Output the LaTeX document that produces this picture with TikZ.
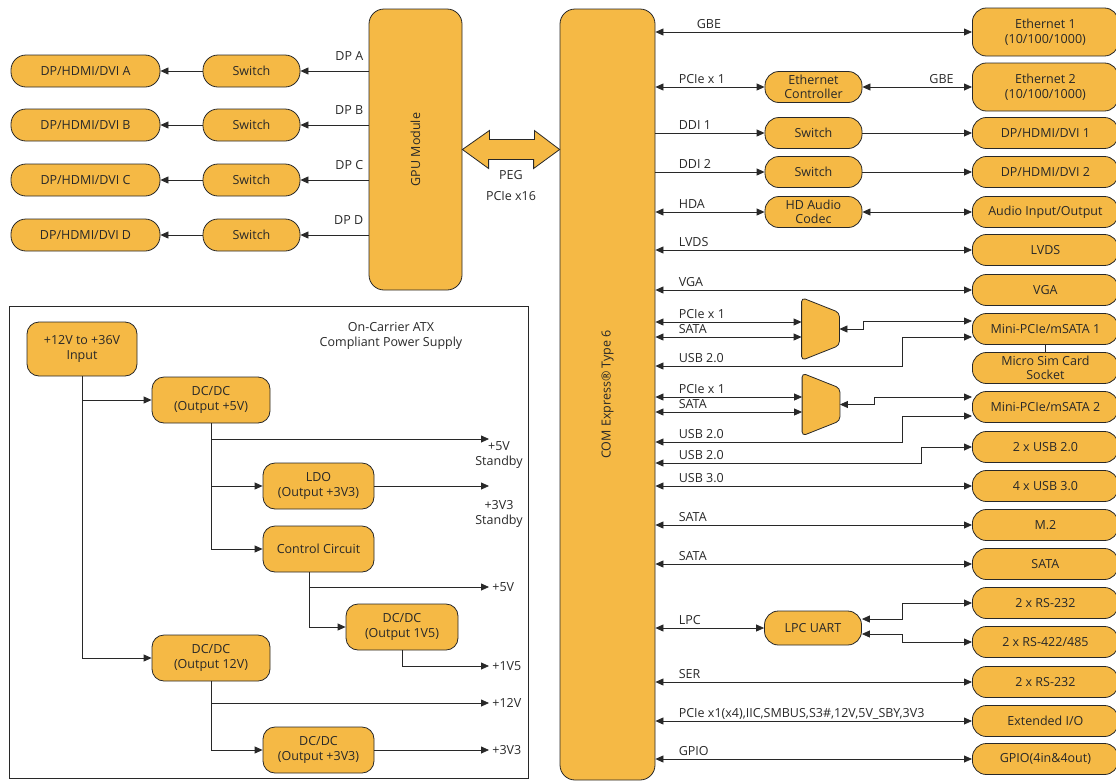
\documentclass[tikz,border=0pt]{standalone}
\usepackage{fontspec}
\setmainfont{Open Sans}
\usetikzlibrary{arrows.meta,positioning}
\definecolor{boxfill}{RGB}{245,185,69}
\definecolor{linegray}{RGB}{40,40,40}
\begin{document}
\begin{tikzpicture}[
  x=1pt, y=-1pt,
  font=\fontsize{12.5}{14.5}\selectfont,
  color=linegray, line width=0.8pt,
  >={Triangle[length=8pt,width=7pt]},
  box/.style={draw, fill=boxfill, rounded corners=14pt, minimum height=31pt, inner xsep=2pt, inner ysep=1pt, align=center},
  port/.style={box, minimum width=146pt, anchor=west},
  mid/.style={box, minimum width=97pt},
  dpbox/.style={box, minimum width=149pt, minimum height=32pt, rounded corners=15pt},
  swbox/.style={box, minimum width=97pt, minimum height=32pt, rounded corners=15pt},
  psbox/.style={box, rounded corners=12pt, minimum height=46pt},
  mux/.style={minimum width=37pt, minimum height=62pt, inner sep=0pt},
  lbl/.style={anchor=base west, inner sep=0pt, xshift=23pt, yshift=4pt},
  rlbl/.style={anchor=base east, inner sep=0pt, xshift=-18pt, yshift=4pt},
  dplbl/.style={anchor=base east, inner sep=0pt, xshift=-5pt, yshift=11pt},
  outl/.style={anchor=west, inner sep=3pt}
]
\useasboundingbox (0,0) rectangle (1116,782);

% GPU module and its display outputs
\node[box, rounded corners=15pt, minimum width=93pt, minimum height=281pt] (gpu) at (415.5,149.5) {};
\node[rotate=90] (gpulbl) at (gpu) {GPU Module};

\node[swbox] (swA) at (251.5,71) {Switch};
\node[swbox] (swB) at (251.5,125) {Switch};
\node[swbox] (swC) at (251.5,180) {Switch};
\node[swbox] (swD) at (251.5,235) {Switch};
\node[dpbox] (dpA) at (85.5,71) {DP/HDMI/DVI A};
\node[dpbox] (dpB) at (85.5,125) {DP/HDMI/DVI B};
\node[dpbox] (dpC) at (85.5,180) {DP/HDMI/DVI C};
\node[dpbox] (dpD) at (85.5,235) {DP/HDMI/DVI D};

\draw[->] (gpu.west |- swA) node[dplbl] {DP A} -- (swA);
\draw[->] (gpu.west |- swB) node[dplbl] {DP B} -- (swB);
\draw[->] (gpu.west |- swC) node[dplbl] {DP C} -- (swC);
\draw[->] (gpu.west |- swD) node[dplbl] {DP D} -- (swD);
\draw[->] (swA) -- (dpA);
\draw[->] (swB) -- (dpB);
\draw[->] (swC) -- (dpC);
\draw[->] (swD) -- (dpD);

% COM Express module
\node[box, rounded corners=15pt, minimum width=95pt, minimum height=771pt] (com) at (607.5,394.5) {};
\node[rotate=90] (comlbl) at (com) {COM Express® Type 6};

% PEG link
\filldraw[fill=boxfill] (gpu.east) -- ++(27,-19) -- ++(0,9) -- ++(45,0) -- ++(0,-9)
  -- (com.west |- gpu.east) -- ++(-26,19) -- ++(0,-9) -- ++(-45,0) -- ++(0,9) -- cycle;
\node (peg) at (511,175) {PEG};
\node (pegbus) at (511,196) {PCIe x16};

% carrier interfaces
\node[port, minimum height=48pt] (eth1) at (972,32) {Ethernet 1\\(10/100/1000)};
\node[port, minimum height=48pt] (eth2) at (972,87) {Ethernet 2\\(10/100/1000)};
\node[port] (dp1) at (972,133) {DP/HDMI/DVI 1};
\node[port] (dp2) at (972,172) {DP/HDMI/DVI 2};
\node[port] (audio) at (972,212) {Audio Input/Output};
\node[port] (lvds) at (972,250) {LVDS};
\node[port] (vga) at (972,290) {VGA};
\node[port] (mini1) at (972,329) {Mini-PCIe/mSATA 1};
\node[port] (sim) at (972,368) {Micro Sim Card\\Socket};
\node[port] (mini2) at (972,407) {Mini-PCIe/mSATA 2};
\node[port] (usb2) at (972,447) {2 x USB 2.0};
\node[port] (usb3) at (972,486) {4 x USB 3.0};
\node[port] (m2) at (972,525) {M.2};
\node[port] (sata) at (972,564) {SATA};
\node[port] (rsa) at (972,603) {2 x RS-232};
\node[port] (rs485) at (972,642) {2 x RS-422/485};
\node[port] (rsb) at (972,682) {2 x RS-232};
\node[port] (extio) at (972,721) {Extended I/O};
\node[port] (gpio) at (972,759) {GPIO(4in\&4out)};

\node[mid] (ethctl) at (813.5,87) {Ethernet\\Controller};
\node[mid] (sw1) at (813.5,133) {Switch};
\node[mid] (sw2) at (813.5,172) {Switch};
\node[mid] (codec) at (813.5,212) {HD Audio\\Codec};
\node[mid, minimum height=34pt] (uart) at (813,628) {LPC UART};

\node[mux] (mux1) at (820.5,329) {};
\filldraw[fill=boxfill, rounded corners=4pt] (mux1.north west) -- ([yshift=-15pt]mux1.north east)
  -- ([yshift=15pt]mux1.south east) -- (mux1.south west) -- cycle;
\node[mux] (mux2) at (821,404.5) {};
\filldraw[fill=boxfill, rounded corners=4pt] (mux2.north west) -- ([yshift=-15pt]mux2.north east)
  -- ([yshift=15pt]mux2.south east) -- (mux2.south west) -- cycle;

\draw[<->] (com.east |- eth1) node[lbl, xshift=18pt] {GBE} -- (eth1);
\draw[<->] (com.east |- ethctl) node[lbl] {PCIe x 1} -- (ethctl);
\draw[<->] (ethctl) -- node[rlbl, pos=1] {GBE} (eth2);
\draw[->] (com.east |- sw1) node[lbl] {DDI 1} -- (sw1);
\draw[->] (sw1) -- (dp1);
\draw[->] (com.east |- sw2) node[lbl] {DDI 2} -- (sw2);
\draw[->] (sw2) -- (dp2);
\draw[<->] (com.east |- codec) node[lbl] {HDA} -- (codec);
\draw[<->] (codec) -- (audio);
\draw[<->] (com.east |- lvds) node[lbl] {LVDS} -- (lvds);
\draw[<->] (com.east |- vga) node[lbl] {VGA} -- (vga);

\coordinate (m1a) at ([yshift=7pt]mux1.west);
\coordinate (m1b) at ([yshift=-8pt]mux1.west);
\coordinate (u1) at ([yshift=-37pt]mux1.center);
\draw[<->] (com.east |- m1a) node[lbl] {PCIe x 1} -- (m1a);
\draw[<->] (com.east |- m1b) node[lbl] {SATA} -- (m1b);
\draw[<->] (mux1.east) -- ++(24,0) |- ([yshift=8pt]mini1.west);
\draw[<->] ([yshift=-8pt]mini1.west) -- ++(-70,0) |- (com.east |- u1) node[lbl] {USB 2.0};
\draw (mini1) -- (sim);

\coordinate (m2a) at ([yshift=7.5pt]mux2.west);
\coordinate (m2b) at ([yshift=-7.5pt]mux2.west);
\coordinate (u2) at ([yshift=-37.5pt]mux2.center);
\draw[<->] (com.east |- m2a) node[lbl] {PCIe x 1} -- (m2a);
\draw[<->] (com.east |- m2b) node[lbl] {SATA} -- (m2b);
\draw[<->] (mux2.east) -- ++(34,0) |- ([yshift=10pt]mini2.west);
\draw[<->] ([yshift=-9pt]mini2.west) -- ++(-70,0) |- (com.east |- u2) node[lbl] {USB 2.0};

\coordinate (u3) at ([yshift=-16pt]usb2.west);
\draw[<->] (usb2.west) -- ++(-51,0) |- (com.east |- u3) node[lbl] {USB 2.0};
\draw[<->] (com.east |- usb3) node[lbl] {USB 3.0} -- (usb3);
\draw[<->] (com.east |- m2) node[lbl] {SATA} -- (m2);
\draw[<->] (com.east |- sata) node[lbl] {SATA} -- (sata);
\draw[<->] (com.east |- uart) node[lbl] {LPC} -- (uart);
\draw[<->] ([yshift=9pt]uart.east) -- ++(40,0) |- (rsa);
\draw[<->] ([yshift=-6pt]uart.east) -- ++(40,0) |- (rs485);
\draw[<->] (com.east |- rsb) node[lbl] {SER} -- (rsb);
\draw[<->] (com.east |- extio) node[lbl] {PCIe x1(x4),IIC,SMBUS,S3\#,12V,5V\_SBY,3V3} -- (extio);
\draw[<->] (com.east |- gpio) node[lbl] {GPIO} -- (gpio);

% power supply
\node[draw, line width=0.6pt, minimum width=519pt, minimum height=472pt] (psu) at (268.5,542) {};
\node[align=center] (psutitle) at (391,336) {On-Carrier ATX\\Compliant Power Supply};
\node[psbox, minimum width=110pt, minimum height=54pt] (input) at (82,349) {+12V to +36V\\Input};
\node[psbox, minimum width=118pt] (dc5) at (211,400) {DC/DC\\(Output +5V)};
\node[psbox, minimum width=111pt] (ldo) at (318.5,486) {LDO\\(Output +3V3)};
\node[psbox, minimum width=111pt] (ctrl) at (318.5,549) {Control Circuit};
\node[psbox, minimum width=112pt] (dc15) at (402,627) {DC/DC\\(Output 1V5)};
\node[psbox, minimum width=118pt] (dc12) at (211,658) {DC/DC\\(Output 12V)};
\node[psbox, minimum width=111pt] (dc33) at (318.5,750) {DC/DC\\(Output +3V3)};

\coordinate (o5sb) at (489,439);
\coordinate (o33sb) at (489,486);
\node[align=center] (l5sb) at (499,455) {+5V\\Standby};
\node[align=center] (l33sb) at (499,514) {+3V3\\Standby};
\node[outl] (o5) at (489,587) {+5V};
\node[outl] (o15) at (489,666) {+1V5};
\node[outl] (o12) at (489,703) {+12V};
\node[outl] (o33) at (489,750) {+3V3};

\draw[->] (input) |- (dc5);
\draw[->] (input) |- (dc12);
\draw[->] (dc5) |- (o5sb);
\draw[->] (dc5) |- (ldo);
\draw[->] (dc5) |- (ctrl);
\draw[->] (ldo) -- (o33sb);
\draw[->] ([xshift=-9pt]ctrl.south) |- (o5);
\draw[->] ([xshift=-9pt]ctrl.south) |- (dc15);
\draw[->] (dc15) |- (o15);
\draw[->] (dc12) |- (o12);
\draw[->] (dc12) |- (dc33);
\draw[->] (dc33) -- (o33);
\end{tikzpicture}
\end{document}
